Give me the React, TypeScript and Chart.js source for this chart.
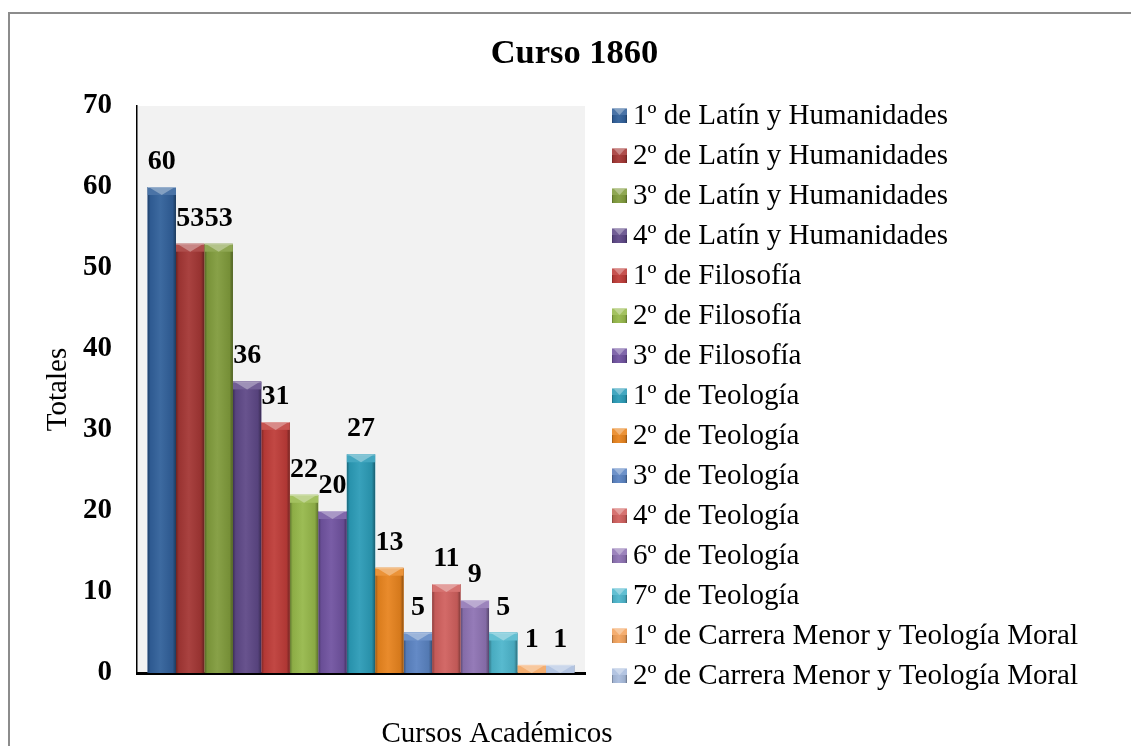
import React, { useEffect, useRef } from "react";
import { Chart, registerables } from "chart.js";

Chart.register(...registerables);

// ---------------- data ----------------
const chartTitle = "Curso 1860";
const yAxisTitle = "Totales";
const xAxisTitle = "Cursos Académicos";
const categories = ["Cursos Académicos"];

const seriesNames = [
  "1º de Latín y Humanidades",
  "2º de Latín y Humanidades",
  "3º de Latín y Humanidades",
  "4º de Latín y Humanidades",
  "1º de Filosofía",
  "2º de Filosofía",
  "3º de Filosofía",
  "1º de Teología",
  "2º de Teología",
  "3º de Teología",
  "4º de Teología",
  "6º de Teología",
  "7º de Teología",
  "1º de Carrera Menor y Teología Moral",
  "2º de Carrera Menor y Teología Moral",
];

const seriesValues = [60, 53, 53, 36, 31, 22, 20, 27, 13, 5, 11, 9, 5, 1, 1];

const seriesColors = [
  "#31609A",
  "#A33634",
  "#809B3C",
  "#5E4887",
  "#BE3C38",
  "#96B84A",
  "#7053A0",
  "#2B9BB7",
  "#E8841E",
  "#5A83C2",
  "#D0605E",
  "#8E73B3",
  "#4DB6CC",
  "#F2A35E",
  "#A9BCDD",
];

const yMin = 0;
const yMax = 70;
const yStep = 10;

// ---------------- styling ----------------
const SERIF = "'Times New Roman', 'Liberation Serif', serif";
const CANVAS_W = 1141;
const CANVAS_H = 746;
const LEGEND_X = 612;
const LEGEND_FIRST_BASELINE = 124;
const LEGEND_STEP = 40;
const LEGEND_FONT = 29;

function shade(hex: string, amt: number): string {
  const n = parseInt(hex.slice(1), 16);
  const r = (n >> 16) & 255;
  const g = (n >> 8) & 255;
  const b = n & 255;
  const f = (c: number) =>
    amt >= 0 ? Math.round(c + (255 - c) * amt) : Math.round(c * (1 + amt));
  return `rgb(${f(r)},${f(g)},${f(b)})`;
}

function drawBevel(
  ctx: CanvasRenderingContext2D,
  x0: number,
  top: number,
  w: number,
  h: number,
  color: string,
  bevel: number
) {
  if (h <= 0 || w <= 0) return;
  ctx.save();
  ctx.beginPath();
  ctx.rect(x0, top, w, h);
  ctx.clip();
  const g = ctx.createLinearGradient(x0, 0, x0 + w, 0);
  g.addColorStop(0, shade(color, -0.35));
  g.addColorStop(0.1, shade(color, -0.06));
  g.addColorStop(0.45, shade(color, 0.06));
  g.addColorStop(0.88, shade(color, -0.08));
  g.addColorStop(1, shade(color, -0.4));
  ctx.fillStyle = g;
  ctx.fillRect(x0, top, w, h);
  const bh = Math.min(bevel, h);
  // side wedges of the bevel
  ctx.fillStyle = shade(color, 0.12);
  ctx.fillRect(x0, top, w, bh);
  // central lighter chevron
  ctx.fillStyle = shade(color, 0.4);
  ctx.beginPath();
  ctx.moveTo(x0 + 1, top);
  ctx.lineTo(x0 + w - 1, top);
  ctx.lineTo(x0 + w / 2, top + bh);
  ctx.closePath();
  ctx.fill();
  ctx.strokeStyle = shade(color, 0.5);
  ctx.lineWidth = 1;
  ctx.beginPath();
  ctx.moveTo(x0, top + 0.5);
  ctx.lineTo(x0 + w, top + 0.5);
  ctx.stroke();
  ctx.restore();
}

const backgroundPlugin = {
  id: "backgroundPlugin",
  beforeDraw(chart: any) {
    const { ctx, chartArea } = chart;
    ctx.save();
    ctx.fillStyle = "#ffffff";
    ctx.fillRect(0, 0, chart.width, chart.height);
    ctx.fillStyle = "#f2f2f2";
    ctx.fillRect(
      chartArea.left,
      chartArea.top,
      chartArea.right - chartArea.left,
      chartArea.bottom - chartArea.top
    );
    ctx.strokeStyle = "#8c8c8c";
    ctx.lineWidth = 2;
    ctx.strokeRect(9, 13, 1300, 1000);
    ctx.restore();
  },
};

const bevelPlugin = {
  id: "bevelPlugin",
  afterDatasetsDraw(chart: any) {
    const ctx = chart.ctx as CanvasRenderingContext2D;
    chart.data.datasets.forEach((_ds: any, i: number) => {
      const meta = chart.getDatasetMeta(i);
      meta.data.forEach((el: any) => {
        const { x, y, base, width } = el.getProps(["x", "y", "base", "width"], true);
        drawBevel(ctx, x - width / 2, y, width, base - y, seriesColors[i], 8);
      });
    });
    // data labels
    ctx.save();
    ctx.font = `bold 28px ${SERIF}`;
    ctx.fillStyle = "#000";
    ctx.textAlign = "center";
    ctx.textBaseline = "alphabetic";
    chart.data.datasets.forEach((ds: any, i: number) => {
      const meta = chart.getDatasetMeta(i);
      meta.data.forEach((el: any, j: number) => {
        const { x, y } = el.getProps(["x", "y"], true);
        ctx.fillText(String(ds.data[j]), x, y - 18);
      });
    });
    ctx.restore();
  },
};

const legendAndTitlePlugin = {
  id: "legendAndTitlePlugin",
  afterDraw(chart: any) {
    const ctx = chart.ctx as CanvasRenderingContext2D;
    ctx.save();
    ctx.font = `${LEGEND_FONT}px ${SERIF}`;
    ctx.textBaseline = "alphabetic";
    ctx.textAlign = "left";
    chart.data.datasets.forEach((ds: any, i: number) => {
      const baseline = LEGEND_FIRST_BASELINE + i * LEGEND_STEP;
      drawBevel(ctx, LEGEND_X, baseline - 16, 15, 15, seriesColors[i], 7);
      ctx.fillStyle = "#000";
      ctx.fillText(ds.label, LEGEND_X + 21, baseline);
    });
    // x axis title
    ctx.font = `29px ${SERIF}`;
    ctx.textAlign = "center";
    ctx.fillStyle = "#000";
    ctx.fillText(xAxisTitle, 497, 742);
    ctx.restore();
  },
};

export default function App() {
  const ref = useRef<HTMLCanvasElement>(null);

  useEffect(() => {
    const canvas = ref.current;
    if (!canvas) return;
    const chart = new Chart(canvas, {
      type: "bar",
      data: {
        labels: categories,
        datasets: seriesNames.map((name, i) => ({
          label: name,
          data: [seriesValues[i]],
          backgroundColor: seriesColors[i],
          borderWidth: 0,
          barPercentage: 1,
          categoryPercentage: 0.953,
        })),
      },
      options: {
        responsive: false,
        devicePixelRatio: 1,
        animation: false,
        layout: { padding: { left: 8, top: 12, right: 0, bottom: 0 } },
        plugins: {
          legend: { display: false },
          tooltip: { enabled: false },
          title: {
            display: true,
            text: chartTitle,
            color: "#000",
            font: { family: SERIF, size: 34.5, weight: "bold" },
            padding: { top: 21, bottom: 31.6 },
          },
        },
        scales: {
          x: {
            type: "category",
            grid: { display: false, drawTicks: false },
            border: { display: true, color: "#000", width: 3 },
            ticks: { display: false },
            afterFit: (s: any) => {
              s.height = 73;
            },
          },
          y: {
            type: "linear",
            min: yMin,
            max: yMax,
            grid: { display: false, drawTicks: false },
            border: { display: true, color: "#000", width: 1.5 },
            ticks: {
              stepSize: yStep,
              color: "#000",
              padding: 25,
              font: { family: SERIF, size: 29, weight: "bold" },
            },
            title: {
              display: true,
              text: yAxisTitle,
              color: "#000",
              font: { family: SERIF, size: 29 },
              padding: { top: 32.6, bottom: 0 },
            },
            afterFit: (s: any) => {
              s.width = 129;
            },
          },
          legendSpace: {
            type: "linear",
            position: "right",
            display: true,
            grid: { display: false, drawTicks: false },
            border: { display: false },
            ticks: { display: false },
            afterFit: (s: any) => {
              s.width = CANVAS_W - 585;
            },
          },
        },
      } as any,
      plugins: [backgroundPlugin, bevelPlugin, legendAndTitlePlugin],
    });
    return () => chart.destroy();
  }, []);

  return (
    <div
      style={{
        position: "fixed",
        left: 0,
        top: 0,
        width: 1131,
        height: 746,
        overflow: "hidden",
        background: "#fff",
      }}
    >
      <canvas
        ref={ref}
        width={CANVAS_W}
        height={CANVAS_H}
        style={{ display: "block", width: CANVAS_W, height: CANVAS_H }}
      />
    </div>
  );
}
